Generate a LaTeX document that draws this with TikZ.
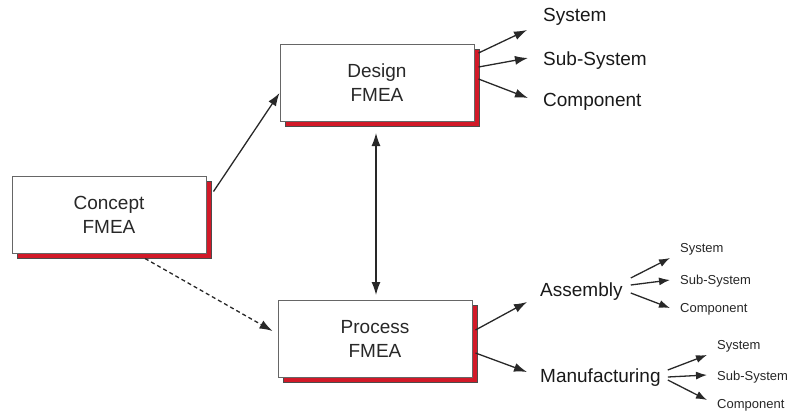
\documentclass[tikz,border=0pt]{standalone}
\usepackage{fontspec}
\setmainfont{Liberation Sans}
\usepackage{tikz}
\usetikzlibrary{arrows.meta,positioning,calc,shadows}

\definecolor{boxred}{RGB}{210,25,40}
\definecolor{ink}{RGB}{40,40,40}

\begin{document}
\begin{tikzpicture}[
  x=1pt, y=-1pt,
  >={Latex[length=13pt,width=9pt]},
  box/.style={draw=gray!80!black, line width=1pt, fill=white, minimum width=194pt, minimum height=77pt,
    align=center, text=ink, font=\fontsize{19}{24}\selectfont,
    drop shadow={shadow xshift=5pt, shadow yshift=-5pt, fill=boxred, draw=black!70, opacity=1}},
  lbl/.style={anchor=west, inner sep=0pt, text=black!90, font=\fontsize{19}{22}\selectfont},
  small/.style={anchor=west, inner sep=0pt, text=black!85, font=\fontsize{13}{15}\selectfont},
  arrow/.style={->, draw=ink, line width=1.3pt},
  sarrow/.style={-{Latex[length=11pt,width=8pt]}, draw=ink, line width=1.3pt}
]
\useasboundingbox (0,0) rectangle (790,415);

% boxes
\node[box] (concept) at (109,214.5) {Concept\\FMEA};
\node[box] (design) at (377,83) {Design\\FMEA};
\node[box] (process) at (375,339) {Process\\FMEA};

% design outputs
\node[lbl] (dsys) at (543,17) {System};
\node[lbl] (dsub) at (543,61) {Sub-System};
\node[lbl] (dcomp) at (543,102) {Component};

% process outputs
\node[lbl] (asm) at (540,292) {Assembly};
\node[lbl] (mfg) at (540,378) {Manufacturing};
\node[small] (asys) at (680,249) {System};
\node[small] (asub) at (680,281) {Sub-System};
\node[small] (acomp) at (680,309) {Component};
\node[small] (msys) at (717,346) {System};
\node[small] (msub) at (717,377) {Sub-System};
\node[small] (mcomp) at (717,405) {Component};

% connectors
\draw[arrow] ($(concept.east)+(7,-23)$) -- ($(design.west)+(0,10)$);
\draw[arrow, dash pattern=on 4pt off 3pt] ($(concept.south)+(36,5)$) -- ($(process.west)+(-5,-8)$);
\draw[<->, draw=ink, line width=1.3pt] ($(design.south)+(-1,11)$) -- ($(process.north)+(1,-5)$);

\draw[arrow] ($(design.east)+(4,-30)$) -- ($(dsys.west)+(-16,13)$);
\draw[arrow] ($(design.east)+(4,-16)$) -- ($(dsub.west)+(-15,-3)$);
\draw[arrow] ($(design.east)+(4,-4)$) -- ($(dcomp.west)+(-15,-4)$);

\draw[arrow] ($(process.east)+(3,-9)$) -- ($(asm.west)+(-13,10)$);
\draw[arrow] ($(process.east)+(3,14)$) -- ($(mfg.west)+(-13,-6)$);

\draw[sarrow] ($(asm.east)+(8,-14)$) -- ($(asys.west)+(-10,9)$);
\draw[sarrow] ($(asm.east)+(8,-7)$) -- ($(asub.west)+(-10,-1)$);
\draw[sarrow] ($(asm.east)+(8,1)$) -- ($(acomp.west)+(-10,-1)$);

\draw[sarrow] ($(mfg.east)+(7,-8)$) -- ($(msys.west)+(-10,9)$);
\draw[sarrow] ($(mfg.east)+(7,-1)$) -- ($(msub.west)+(-10,-2)$);
\draw[sarrow] ($(mfg.east)+(7,2)$) -- ($(mcomp.west)+(-10,-5)$);
\end{tikzpicture}
\end{document}
